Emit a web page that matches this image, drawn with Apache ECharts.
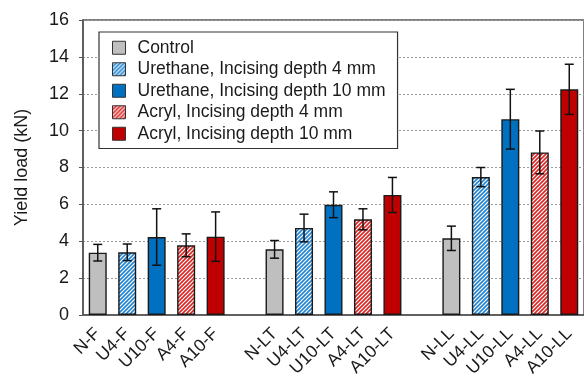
<!DOCTYPE html>
<html>
<head>
<meta charset="utf-8">
<script src="https://cdn.jsdelivr.net/npm/echarts@6/dist/echarts.min.js"></script>
<style>
  html, body { margin: 0; padding: 0; background: #fff; }
  #chart { width: 584px; height: 381px; }
</style>
</head>
<body>
<div id="chart"></div>
<script>
// groups along the x axis, one blank slot between them
const groups = ['F', 'LT', 'LL']
const prefixes = ['N', 'U4', 'U10', 'A4', 'A10']
const seriesNames = [
  'Control',
  'Urethane, Incising depth 4 mm',
  'Urethane, Incising depth 10 mm',
  'Acryl, Incising depth 4 mm',
  'Acryl, Incising depth 10 mm'
]

// mean yield load (kN) per group: F, LT, LL
const control    = [3.38, 3.56, 4.16]
const urethane4  = [3.40, 4.72, 7.48]
const urethane10 = [4.23, 5.98, 10.62]
const acryl4     = [3.78, 5.19, 8.82]
const acryl10    = [4.25, 6.51, 12.24]

// standard deviation (error bar half length)
const controlSd    = [0.45, 0.48, 0.66]
const urethane4Sd  = [0.45, 0.75, 0.52]
const urethane10Sd = [1.53, 0.70, 1.62]
const acryl4Sd     = [0.62, 0.57, 1.16]
const acryl10Sd    = [1.34, 0.95, 1.36]

const yTicks = [0, 2, 4, 6, 8, 10, 12, 14, 16]

function hatch(color) {
  const c = document.createElement('canvas')
  c.width = 4
  c.height = 4
  const ctx = c.getContext('2d')
  ctx.fillStyle = '#fff'
  ctx.fillRect(0, 0, 4, 4)
  ctx.strokeStyle = color
  ctx.lineWidth = 1.6
  ctx.beginPath()
  ctx.moveTo(-1, 1); ctx.lineTo(1, -1)
  ctx.moveTo(-1, 5); ctx.lineTo(5, -1)
  ctx.moveTo(3, 5); ctx.lineTo(5, 3)
  ctx.stroke()
  return { image: c, repeat: 'repeat' }
}

const fills = [
  '#bfbfbf',
  hatch('#1f84d4'),
  '#0070c0',
  hatch('#dc2424'),
  '#c00000'
]

const means = [control, urethane4, urethane10, acryl4, acryl10]
const sds = [controlSd, urethane4Sd, urethane10Sd, acryl4Sd, acryl10Sd]

// build categories with a blank slot between groups
const categories = []
groups.forEach((g, gi) => {
  if (gi > 0) categories.push('')
  prefixes.forEach(p => categories.push(p + '-' + g))
})

const barSeries = seriesNames.map((name, si) => {
  const data = categories.map(() => '-')
  groups.forEach((g, gi) => {
    data[gi * 6 + si] = means[si][gi]
  })
  return {
    name: name,
    type: 'bar',
    stack: 'all',
    barWidth: 18,
    data: data,
    itemStyle: { color: fills[si], borderColor: '#1a1a1a', borderWidth: 1.4 }
  }
})

const errData = []
seriesNames.forEach((name, si) => {
  groups.forEach((g, gi) => {
    const m = means[si][gi]
    const s = sds[si][gi]
    errData.push([gi * 6 + si, m - s, m + s])
  })
})

const chart = echarts.init(document.getElementById('chart'))
chart.setOption({
  animation: false,
  textStyle: { fontFamily: 'Liberation Sans, Arial, sans-serif' },
  grid: {
    left: 83, top: 20, right: -2, bottom: 66,
    show: true, borderColor: '#555', borderWidth: 1.5
  },
  legend: {
    left: 99, top: 32,
    orient: 'vertical',
    itemWidth: 13, itemHeight: 13, itemGap: 0,
    padding: [5, 12, 4, 13],
    borderColor: '#333', borderWidth: 1.2,
    backgroundColor: '#fff',
    icon: 'rect',
    textStyle: { fontSize: 17.5, lineHeight: 21.5, color: '#1a1a1a', padding: [0, 0, 0, 7] },
    itemStyle: { borderColor: '#333', borderWidth: 1 },
    data: seriesNames
  },
  xAxis: {
    type: 'category',
    data: categories,
    axisLine: { lineStyle: { color: '#555', width: 1.5 } },
    axisTick: { show: false },
    axisLabel: { rotate: 45, fontSize: 17.5, color: '#1a1a1a', margin: 16, interval: 0 }
  },
  yAxis: {
    type: 'value',
    min: yTicks[0], max: yTicks[yTicks.length - 1], interval: 2,
    name: 'Yield load (kN)',
    nameLocation: 'middle',
    nameGap: 52,
    nameTextStyle: { fontSize: 18, color: '#1a1a1a' },
    axisLine: { show: true, lineStyle: { color: '#555', width: 1.5 } },
    axisTick: { show: true, length: 4, lineStyle: { color: '#555' } },
    axisLabel: { fontSize: 18, color: '#1a1a1a', margin: 14 },
    splitLine: { lineStyle: { color: '#9a9a9a', type: [2, 2], width: 1 } }
  },
  series: barSeries.concat([{
    type: 'custom',
    name: 'err',
    data: errData,
    z: 10,
    renderItem: function (params, api) {
      const lo = api.coord([api.value(0), api.value(1)])
      const hi = api.coord([api.value(0), api.value(2)])
      const w = 4.5
      const st = { stroke: '#111', lineWidth: 1.5 }
      return {
        type: 'group',
        children: [
          { type: 'line', shape: { x1: lo[0], y1: lo[1], x2: hi[0], y2: hi[1] }, style: st },
          { type: 'line', shape: { x1: lo[0] - w, y1: lo[1], x2: lo[0] + w, y2: lo[1] }, style: st },
          { type: 'line', shape: { x1: hi[0] - w, y1: hi[1], x2: hi[0] + w, y2: hi[1] }, style: st }
        ]
      }
    }
  }])
})
</script>
</body>
</html>
